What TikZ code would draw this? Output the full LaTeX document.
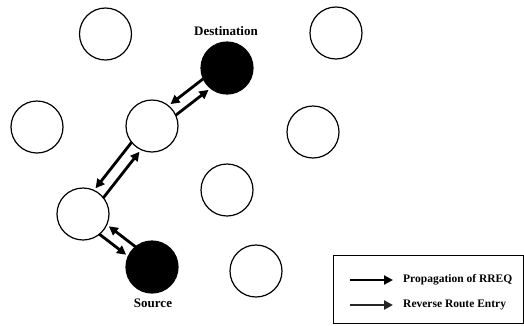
\documentclass[tikz,border=0pt]{standalone}
\usepackage{fontspec}
\setmainfont{Liberation Serif}
\usetikzlibrary{calc,arrows.meta}

\tikzset{
  host/.style={circle, draw=black, line width=1.2pt, minimum size=52pt, inner sep=0pt},
  endhost/.style={host, fill=black},
  rreq/.style={line width=2.8pt, -{Triangle[length=9pt,width=9pt]}},
  rrev/.style={rreq, line width=2.4pt, draw=black!85, fill=black},
  lbl/.style={font=\fontsize{13}{15}\selectfont\bfseries},
  legtext/.style={font=\fontsize{11.5}{13}\selectfont\bfseries, anchor=west, inner sep=0pt},
  legbox/.style={draw=black, line width=0.8pt}
}

% forward hop along the right-hand side of the line from #1 to #2
\newcommand{\hop}[3]{%
  \draw[#3, shorten <=25pt, shorten >=28pt]
    ($(#1)!6pt!-90:(#2)$) -- ($(#2)!6pt!90:(#1)$);}

\begin{document}
\begin{tikzpicture}[x=1pt, y=-1pt]
  \useasboundingbox (0,0) rectangle (524,325);

  % idle hosts
  \node[host] (n1) at (105.5,34) {};
  \node[host] (n2) at (336,33) {};
  \node[host] (n3) at (37,127) {};
  \node[host] (n4) at (313,132) {};
  \node[host] (n5) at (227,190) {};
  \node[host] (n6) at (256,271) {};

  % hosts on the discovered route
  \node[host] (hb) at (152,126) {};
  \node[host] (ha) at (83,214) {};
  \node[endhost] (dst) at (227,68) {};
  \node[endhost] (src) at (152,267) {};

  \node[lbl] (dstl) at (226,31) {Destination};
  \node[lbl] (srcl) at (153,303) {Source};

  % route request flooding and reverse path set-up
  \hop{src}{ha}{rreq}
  \hop{ha}{src}{rreq}
  \hop{ha}{hb}{rreq}
  \hop{hb}{ha}{rreq}
  \hop{hb}{dst}{rreq}
  \hop{dst}{hb}{rreq}

  % legend
  \draw[legbox] (333,255) rectangle (523,323.5);
  \coordinate (l1a) at (350,280);
  \coordinate (l1b) at (393,280);
  \coordinate (l2a) at (350,305);
  \coordinate (l2b) at (393,305);
  \draw[rreq] (l1a) -- (l1b);
  \draw[rrev] (l2a) -- (l2b);
  \node[legtext] (t1) at (403,280) {Propagation of RREQ};
  \node[legtext] (t2) at (403,305) {Reverse Route Entry};
\end{tikzpicture}
\end{document}
